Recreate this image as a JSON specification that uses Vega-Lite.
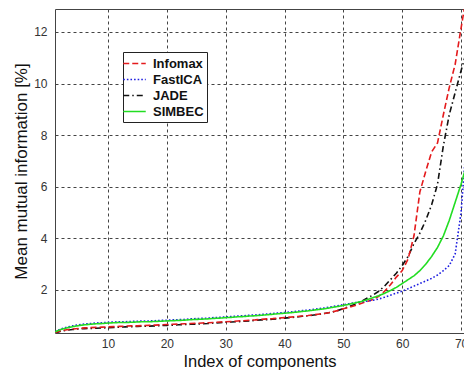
{
  "$schema": "https://vega.github.io/schema/vega-lite/v6.json",
  "width": 409,
  "height": 324,
  "autosize": {"type": "none"},
  "padding": {"left": 55, "top": 9, "right": 0, "bottom": 38},
  "background": "white",
  "config": {
    "view": {"stroke": null},
    "font": "Liberation Sans",
    "axis": {
      "labelFont": "Liberation Sans",
      "labelFontSize": 12,
      "labelColor": "#333",
      "titleFont": "Liberation Sans",
      "titleFontWeight": "normal",
      "titleColor": "#111",
      "domainColor": "#444",
      "domainWidth": 1,
      "gridColor": "#444",
      "gridDash": [3, 3],
      "gridWidth": 1,
      "gridOpacity": 1,
      "ticks": false
    },
    "legend": {
      "orient": "none",
      "legendX": 68,
      "legendY": 43,
      "title": null,
      "strokeColor": "#222",
      "fillColor": "white",
      "padding": 3,
      "rowPadding": 0,
      "labelFont": "Liberation Sans",
      "labelFontSize": 13,
      "labelFontWeight": "bold",
      "labelColor": "#111",
      "symbolType": "M-1.5,0H1.5",
      "symbolSize": 225,
      "symbolStrokeWidth": 1.6,
      "labelOffset": 10
    }
  },
  "data": {
    "values": [
      {"x": 1, "Infomax": 0.35, "FastICA": 0.38, "JADE": 0.33, "SIMBEC": 0.38},
      {"x": 2, "Infomax": 0.42, "FastICA": 0.49, "JADE": 0.40, "SIMBEC": 0.47},
      {"x": 3, "Infomax": 0.46, "FastICA": 0.56, "JADE": 0.44, "SIMBEC": 0.53},
      {"x": 4, "Infomax": 0.49, "FastICA": 0.61, "JADE": 0.47, "SIMBEC": 0.58},
      {"x": 5, "Infomax": 0.51, "FastICA": 0.65, "JADE": 0.49, "SIMBEC": 0.62},
      {"x": 6, "Infomax": 0.53, "FastICA": 0.68, "JADE": 0.50, "SIMBEC": 0.65},
      {"x": 7, "Infomax": 0.54, "FastICA": 0.70, "JADE": 0.51, "SIMBEC": 0.67},
      {"x": 8, "Infomax": 0.55, "FastICA": 0.72, "JADE": 0.52, "SIMBEC": 0.69},
      {"x": 9, "Infomax": 0.56, "FastICA": 0.73, "JADE": 0.53, "SIMBEC": 0.70},
      {"x": 10, "Infomax": 0.57, "FastICA": 0.75, "JADE": 0.54, "SIMBEC": 0.72},
      {"x": 11, "Infomax": 0.58, "FastICA": 0.76, "JADE": 0.55, "SIMBEC": 0.73},
      {"x": 12, "Infomax": 0.59, "FastICA": 0.77, "JADE": 0.56, "SIMBEC": 0.74},
      {"x": 13, "Infomax": 0.60, "FastICA": 0.77, "JADE": 0.57, "SIMBEC": 0.74},
      {"x": 14, "Infomax": 0.61, "FastICA": 0.78, "JADE": 0.58, "SIMBEC": 0.75},
      {"x": 15, "Infomax": 0.61, "FastICA": 0.79, "JADE": 0.59, "SIMBEC": 0.76},
      {"x": 16, "Infomax": 0.62, "FastICA": 0.80, "JADE": 0.60, "SIMBEC": 0.77},
      {"x": 17, "Infomax": 0.63, "FastICA": 0.80, "JADE": 0.60, "SIMBEC": 0.77},
      {"x": 18, "Infomax": 0.64, "FastICA": 0.81, "JADE": 0.61, "SIMBEC": 0.78},
      {"x": 19, "Infomax": 0.65, "FastICA": 0.82, "JADE": 0.62, "SIMBEC": 0.79},
      {"x": 20, "Infomax": 0.66, "FastICA": 0.83, "JADE": 0.63, "SIMBEC": 0.80},
      {"x": 21, "Infomax": 0.67, "FastICA": 0.84, "JADE": 0.64, "SIMBEC": 0.81},
      {"x": 22, "Infomax": 0.68, "FastICA": 0.85, "JADE": 0.65, "SIMBEC": 0.82},
      {"x": 23, "Infomax": 0.69, "FastICA": 0.86, "JADE": 0.66, "SIMBEC": 0.83},
      {"x": 24, "Infomax": 0.70, "FastICA": 0.88, "JADE": 0.67, "SIMBEC": 0.85},
      {"x": 25, "Infomax": 0.71, "FastICA": 0.89, "JADE": 0.68, "SIMBEC": 0.86},
      {"x": 26, "Infomax": 0.72, "FastICA": 0.90, "JADE": 0.69, "SIMBEC": 0.87},
      {"x": 27, "Infomax": 0.73, "FastICA": 0.91, "JADE": 0.70, "SIMBEC": 0.88},
      {"x": 28, "Infomax": 0.74, "FastICA": 0.93, "JADE": 0.72, "SIMBEC": 0.90},
      {"x": 29, "Infomax": 0.76, "FastICA": 0.94, "JADE": 0.73, "SIMBEC": 0.91},
      {"x": 30, "Infomax": 0.77, "FastICA": 0.96, "JADE": 0.75, "SIMBEC": 0.93},
      {"x": 31, "Infomax": 0.78, "FastICA": 0.97, "JADE": 0.76, "SIMBEC": 0.94},
      {"x": 32, "Infomax": 0.80, "FastICA": 0.99, "JADE": 0.77, "SIMBEC": 0.96},
      {"x": 33, "Infomax": 0.81, "FastICA": 1.00, "JADE": 0.79, "SIMBEC": 0.97},
      {"x": 34, "Infomax": 0.83, "FastICA": 1.02, "JADE": 0.80, "SIMBEC": 0.99},
      {"x": 35, "Infomax": 0.84, "FastICA": 1.03, "JADE": 0.82, "SIMBEC": 1.00},
      {"x": 36, "Infomax": 0.86, "FastICA": 1.05, "JADE": 0.84, "SIMBEC": 1.02},
      {"x": 37, "Infomax": 0.88, "FastICA": 1.07, "JADE": 0.85, "SIMBEC": 1.04},
      {"x": 38, "Infomax": 0.89, "FastICA": 1.09, "JADE": 0.87, "SIMBEC": 1.06},
      {"x": 39, "Infomax": 0.91, "FastICA": 1.11, "JADE": 0.89, "SIMBEC": 1.08},
      {"x": 40, "Infomax": 0.93, "FastICA": 1.13, "JADE": 0.91, "SIMBEC": 1.10},
      {"x": 41, "Infomax": 0.95, "FastICA": 1.15, "JADE": 0.93, "SIMBEC": 1.12},
      {"x": 42, "Infomax": 0.97, "FastICA": 1.17, "JADE": 0.95, "SIMBEC": 1.14},
      {"x": 43, "Infomax": 0.99, "FastICA": 1.20, "JADE": 0.98, "SIMBEC": 1.17},
      {"x": 44, "Infomax": 1.01, "FastICA": 1.22, "JADE": 1.00, "SIMBEC": 1.19},
      {"x": 45, "Infomax": 1.04, "FastICA": 1.25, "JADE": 1.03, "SIMBEC": 1.22},
      {"x": 46, "Infomax": 1.07, "FastICA": 1.28, "JADE": 1.06, "SIMBEC": 1.25},
      {"x": 47, "Infomax": 1.10, "FastICA": 1.31, "JADE": 1.10, "SIMBEC": 1.28},
      {"x": 48, "Infomax": 1.14, "FastICA": 1.35, "JADE": 1.14, "SIMBEC": 1.32},
      {"x": 49, "Infomax": 1.20, "FastICA": 1.39, "JADE": 1.20, "SIMBEC": 1.36},
      {"x": 50, "Infomax": 1.27, "FastICA": 1.43, "JADE": 1.28, "SIMBEC": 1.40},
      {"x": 51, "Infomax": 1.33, "FastICA": 1.47, "JADE": 1.36, "SIMBEC": 1.45},
      {"x": 52, "Infomax": 1.40, "FastICA": 1.51, "JADE": 1.45, "SIMBEC": 1.50},
      {"x": 53, "Infomax": 1.48, "FastICA": 1.54, "JADE": 1.55, "SIMBEC": 1.55},
      {"x": 54, "Infomax": 1.55, "FastICA": 1.57, "JADE": 1.68, "SIMBEC": 1.62},
      {"x": 55, "Infomax": 1.63, "FastICA": 1.60, "JADE": 1.80, "SIMBEC": 1.70},
      {"x": 56, "Infomax": 1.75, "FastICA": 1.65, "JADE": 1.95, "SIMBEC": 1.78},
      {"x": 57, "Infomax": 1.95, "FastICA": 1.72, "JADE": 2.15, "SIMBEC": 1.87},
      {"x": 58, "Infomax": 2.20, "FastICA": 1.80, "JADE": 2.40, "SIMBEC": 1.98},
      {"x": 59, "Infomax": 2.50, "FastICA": 1.88, "JADE": 2.65, "SIMBEC": 2.10},
      {"x": 60, "Infomax": 2.75, "FastICA": 1.95, "JADE": 2.95, "SIMBEC": 2.25},
      {"x": 61, "Infomax": 3.20, "FastICA": 2.05, "JADE": 3.30, "SIMBEC": 2.40},
      {"x": 62, "Infomax": 4.10, "FastICA": 2.15, "JADE": 3.80, "SIMBEC": 2.55},
      {"x": 63, "Infomax": 5.80, "FastICA": 2.25, "JADE": 4.20, "SIMBEC": 2.75},
      {"x": 64, "Infomax": 6.60, "FastICA": 2.35, "JADE": 4.70, "SIMBEC": 3.00},
      {"x": 65, "Infomax": 7.35, "FastICA": 2.45, "JADE": 5.30, "SIMBEC": 3.30},
      {"x": 66, "Infomax": 7.70, "FastICA": 2.58, "JADE": 6.10, "SIMBEC": 3.65},
      {"x": 67, "Infomax": 8.80, "FastICA": 2.75, "JADE": 7.60, "SIMBEC": 4.10},
      {"x": 68, "Infomax": 9.85, "FastICA": 2.95, "JADE": 8.80, "SIMBEC": 4.70},
      {"x": 69, "Infomax": 10.75, "FastICA": 3.40, "JADE": 9.65, "SIMBEC": 5.40},
      {"x": 70, "Infomax": 12.15, "FastICA": 5.00, "JADE": 10.50, "SIMBEC": 6.10},
      {"x": 71, "Infomax": 13.50, "FastICA": 8.00, "JADE": 11.30, "SIMBEC": 6.90}
    ]
  },
  "transform": [
    {"fold": ["JADE", "Infomax", "FastICA", "SIMBEC"], "as": ["method", "value"]}
  ],
  "layer": [
    {
      "mark": {"type": "line", "clip": true, "strokeWidth": 1.6},
      "encoding": {
        "x": {
          "field": "x",
          "type": "quantitative",
          "scale": {"domain": [1, 70.5], "nice": false, "zero": false},
          "axis": {
            "values": [10, 20, 30, 40, 50, 60, 70],
            "title": "Index of components",
            "titleFontSize": 16.5,
            "labelPadding": 5,
            "titlePadding": 4
          }
        },
        "y": {
          "field": "value",
          "type": "quantitative",
          "scale": {"domain": [0.333, 12.89], "nice": false, "zero": false},
          "axis": {
            "values": [2, 4, 6, 8, 10, 12],
            "title": "Mean mutual information [%]",
            "titleFontSize": 17,
            "labelPadding": 8,
            "titlePadding": 3
          }
        },
        "color": {
          "field": "method",
          "type": "nominal",
          "scale": {
            "domain": ["Infomax", "FastICA", "JADE", "SIMBEC"],
            "range": ["#e41a1c", "#1f1fe0", "#111111", "#22dd22"]
          }
        },
        "strokeDash": {
          "field": "method",
          "type": "nominal",
          "scale": {
            "domain": ["Infomax", "FastICA", "JADE", "SIMBEC"],
            "range": [[6, 3], [1.6, 2], [6, 3, 1.5, 3], [1, 0]]
          }
        }
      }
    },
    {
      "mark": {"type": "line", "opacity": 0},
      "encoding": {
        "x": {
          "field": "x",
          "type": "quantitative",
          "axis": {
            "orient": "top",
            "labels": false,
            "ticks": false,
            "grid": false,
            "title": null
          }
        },
        "y": {"field": "value", "type": "quantitative"}
      }
    }
  ],
  "resolve": {"axis": {"x": "independent"}}
}
